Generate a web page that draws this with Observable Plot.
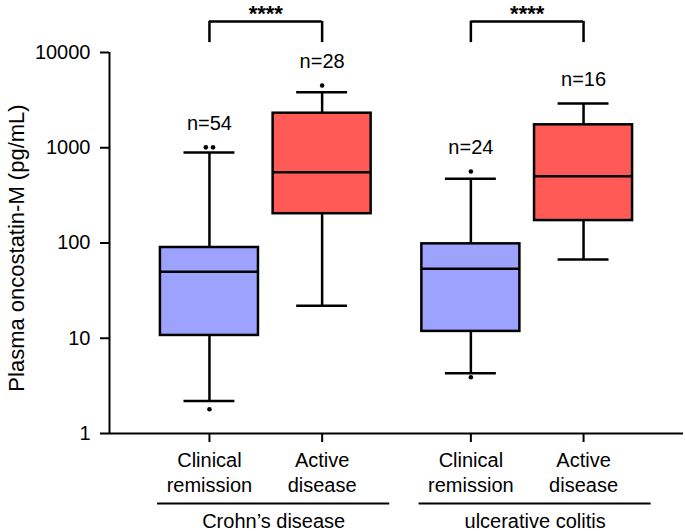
<!DOCTYPE html>
<html>
<head>
<meta charset="utf-8">
<script src="https://cdn.jsdelivr.net/npm/d3@7"></script>
<script src="https://cdn.jsdelivr.net/npm/@observablehq/plot@0.6"></script>
<style>
  html, body { margin: 0; padding: 0; background: white; }
</style>
</head>
<body>
<div id="chart"></div>
<script>
// ---- data ----
const categories = ["Clinical\nremission", "Active\ndisease", "Clinical\nremission", "Active\ndisease"];
const statuses = ["remission", "active", "remission", "active"];
const groups = ["Crohn’s disease", "Crohn’s disease", "ulcerative colitis", "ulcerative colitis"];
const groupNames = ["Crohn’s disease", "ulcerative colitis"];
const nCounts = [54, 28, 24, 16];
const whiskerLow = [2.2, 22, 4.3, 67];
const q1 = [10.7, 203, 11.8, 172];
const median = [50, 554, 53.6, 503];
const q3 = [89.7, 2305, 98, 1741];
const whiskerHigh = [891, 3830, 472, 2916];
const outlierBox = [0, 0, 0, 1, 2, 2];
const outlierValue = [1.8, 1010, 1010, 4500, 3.9, 563];
const comparisonPairs = [[0, 1], [2, 3]];
const comparisonLabels = ["****", "****"];
const bracketBase = 12700, bracketTop = 21200;
const yTicks = [1, 10, 100, 1000, 10000];

// ---- layout (code, not data) ----
const GROUP_STEP = 2.32;
const HALF_BOX = 0.435, HALF_CAP = 0.226, DUP_SHIFT = 0.032;
const X_DOMAIN = [-0.887, 1 + GROUP_STEP + 0.887];
const groupIndex = g => groupNames.indexOf(g);

const boxes = categories.map((c, i) => {
  const gi = groupIndex(groups[i]);
  const si = groups.slice(0, i).filter(g => g === groups[i]).length;
  const outs = outlierValue.filter((v, k) => outlierBox[k] === i);
  return {
    category: c, group: groups[i], status: statuses[i], n: nCounts[i],
    x: gi * GROUP_STEP + si,
    lo: whiskerLow[i], q1: q1[i], med: median[i], q3: q3[i], hi: whiskerHigh[i],
    top: Math.max(whiskerHigh[i], ...outs)
  };
});

// outliers: equal values in the same box are spread side by side
const outliers = outlierValue.map((v, k) => {
  const same = outlierValue.map((w, j) => j).filter(j => outlierBox[j] === outlierBox[k] && outlierValue[j] === v);
  const rank = same.indexOf(k);
  const shift = (rank - (same.length - 1) / 2) * 2 * DUP_SHIFT;
  return { x: boxes[outlierBox[k]].x + shift, value: v };
});

const groupSpans = groupNames.map(g => {
  const xs = boxes.filter(b => b.group === g).map(b => b.x);
  const x1 = Math.min(...xs) - 0.46, x2 = Math.max(...xs) + 0.60;
  return { name: g, x1, x2, xm: (x1 + x2) / 2 };
});

const brackets = comparisonPairs.map(([a, b], i) => ({
  xa: boxes[a].x, xb: boxes[b].x, xm: (boxes[a].x + boxes[b].x) / 2, label: comparisonLabels[i]
}));

const SW = 2.5;
const chart = Plot.plot({
  width: 685,
  height: 531,
  marginLeft: 109,
  marginRight: 2,
  marginTop: 52,
  marginBottom: 98,
  style: { fontFamily: "'Liberation Sans', Arial, sans-serif", fontSize: "20px", background: "white", color: "black" },
  x: { type: "linear", domain: X_DOMAIN },
  y: { type: "log", domain: [1, 10000] },
  color: { domain: ["remission", "active"], range: ["#9ea2ff", "#ff5a55"] },
  marks: [
    // axes
    Plot.axisY({ ticks: yTicks, tickFormat: d => String(d), tickSize: 9, tickPadding: 10, fontSize: 20, strokeWidth: 2, label: null }),
    Plot.ruleX([X_DOMAIN[0]], { y1: 1, y2: 10000, strokeWidth: 2 }),
    Plot.ruleY([1], { x1: X_DOMAIN[0], x2: X_DOMAIN[1], strokeWidth: 2 }),
    Plot.axisX({ ticks: boxes.map(b => b.x), tickFormat: () => "", tickSize: 9, strokeWidth: 2, label: null }),
    // whiskers
    Plot.ruleX(boxes, { x: "x", y1: "lo", y2: "q1", strokeWidth: SW }),
    Plot.ruleX(boxes, { x: "x", y1: "q3", y2: "hi", strokeWidth: SW }),
    Plot.ruleY(boxes, { y: "lo", x1: d => d.x - HALF_CAP, x2: d => d.x + HALF_CAP, strokeWidth: SW }),
    Plot.ruleY(boxes, { y: "hi", x1: d => d.x - HALF_CAP, x2: d => d.x + HALF_CAP, strokeWidth: SW }),
    // boxes
    Plot.rect(boxes, { x1: d => d.x - HALF_BOX, x2: d => d.x + HALF_BOX, y1: "q1", y2: "q3", fill: "status", stroke: "black", strokeWidth: SW }),
    Plot.ruleY(boxes, { y: "med", x1: d => d.x - HALF_BOX, x2: d => d.x + HALF_BOX, strokeWidth: SW }),
    // outliers
    Plot.dot(outliers, { x: "x", y: "value", r: 2.3, fill: "black", stroke: null }),
    // n labels
    Plot.text(boxes, { x: "x", y: "top", text: d => `n=${d.n}`, dy: -24, fontSize: 20 }),
    // significance brackets
    Plot.ruleX(brackets, { x: "xa", y1: bracketBase, y2: bracketTop, strokeWidth: SW }),
    Plot.ruleX(brackets, { x: "xb", y1: bracketBase, y2: bracketTop, strokeWidth: SW }),
    Plot.ruleY(brackets, { y: bracketTop, x1: "xa", x2: "xb", strokeWidth: SW }),
    Plot.text(brackets, { x: "xm", y: bracketTop, text: "label", dy: -7, fontSize: 22, fontWeight: "bold" }),
    // category labels
    Plot.text(boxes, { x: "x", y: 1, text: "category", lineAnchor: "top", dy: 16, lineHeight: 1.25, fontSize: 20 }),
    // group underline + labels
    Plot.ruleY(groupSpans, { y: 1, x1: "x1", x2: "x2", dy: 70, strokeWidth: 2 }),
    Plot.text(groupSpans, { x: "xm", y: 1, text: "name", dy: 88, fontSize: 20 }),
    // y label
    Plot.text(["Plasma oncostatin-M (pg/mL)"], { frameAnchor: "left", text: d => d, textAnchor: "middle", rotate: -90, dx: -93, dy: 5, fontSize: 22 })
  ]
});
document.getElementById("chart").appendChild(chart);
</script>
</body>
</html>
